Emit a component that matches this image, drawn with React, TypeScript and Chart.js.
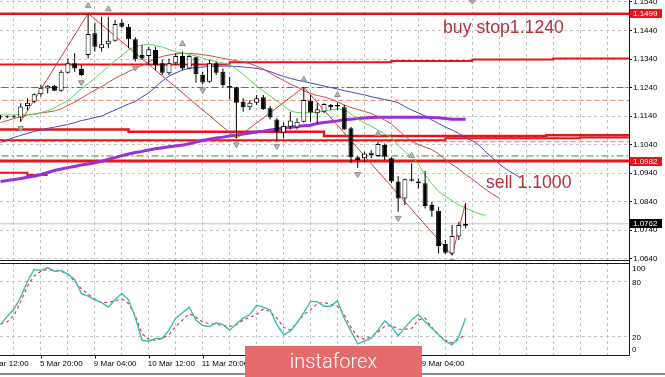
import React, { useEffect, useRef } from 'react';
import { Chart, registerables } from 'chart.js';

Chart.register(...registerables);

// ---------- DATA ----------
const timeLabels = ['4 Mar 12:00', '5 Mar 20:00', '9 Mar 04:00', '10 Mar 12:00', '11 Mar 20:00', '13 Mar 04:00', '16 Mar 12:00', '17 Mar 20:00', '19 Mar 04:00'];
const timeLabelIdx = [-2, 6, 14, 22, 30, 38, 46, 54, 62];

const priceTicks = [1.064, 1.074, 1.084, 1.094, 1.104, 1.114, 1.124, 1.134, 1.144, 1.154];

const opens = [1.1138, 1.1136, 1.1139, 1.1135, 1.1175, 1.1190, 1.1216, 1.1237, 1.1246, 1.1229,
  1.1292, 1.1325, 1.1305, 1.1354, 1.1430, 1.1378, 1.1392, 1.1404, 1.1467, 1.1453,
  1.1409, 1.1354, 1.1351, 1.1372, 1.1325, 1.1290, 1.1325, 1.1351, 1.1307, 1.1346,
  1.1284, 1.1260, 1.1325, 1.1295, 1.1245, 1.1241, 1.1190, 1.1171, 1.1187, 1.1206,
  1.1167, 1.1128, 1.1081, 1.1102, 1.1100, 1.1120, 1.1194, 1.1150, 1.1155, 1.1179,
  1.1179, 1.1171, 1.1097, 1.0995, 1.0992, 1.1003, 1.1000, 1.1038, 1.0992, 1.0910,
  1.0851, 1.0918, 1.0910, 1.0904, 1.0828, 1.0808, 1.0691, 1.0658, 1.0717, 1.0755];
const highs = [1.1144, 1.1142, 1.1143, 1.1185, 1.1202, 1.1220, 1.1249, 1.1249, 1.1249, 1.1301,
  1.1342, 1.1360, 1.1319, 1.1500, 1.1467, 1.1488, 1.1488, 1.1477, 1.1479, 1.1463,
  1.1416, 1.1389, 1.1383, 1.1383, 1.1337, 1.1342, 1.1360, 1.1366, 1.1354, 1.1348,
  1.1295, 1.1337, 1.1331, 1.1307, 1.1278, 1.1243, 1.1202, 1.1196, 1.1214, 1.1214,
  1.1175, 1.1132, 1.1117, 1.1155, 1.1132, 1.1241, 1.1214, 1.1186, 1.1185, 1.1182,
  1.1187, 1.1179, 1.1102, 1.1000, 1.1015, 1.1021, 1.1050, 1.1044, 1.0995, 1.0930,
  1.0921, 1.0974, 1.0921, 1.0948, 1.0839, 1.0822, 1.0705, 1.0758, 1.0769, 1.0834];
const lows = [1.1129, 1.1132, 1.1133, 1.1120, 1.1161, 1.1185, 1.1208, 1.1220, 1.1228, 1.1225,
  1.1290, 1.1295, 1.1280, 1.1342, 1.1366, 1.1366, 1.1378, 1.1401, 1.1448, 1.1378,
  1.1331, 1.1337, 1.1319, 1.1301, 1.1284, 1.1284, 1.1319, 1.1301, 1.1304, 1.1257,
  1.1252, 1.1257, 1.1284, 1.1243, 1.1199, 1.1062, 1.1155, 1.1161, 1.1179, 1.1161,
  1.1128, 1.1056, 1.1062, 1.1093, 1.1093, 1.1117, 1.1120, 1.1115, 1.1150, 1.1161,
  1.1161, 1.1091, 1.0974, 1.0958, 1.0980, 1.0992, 1.0997, 1.0986, 1.0904, 1.0804,
  1.0828, 1.0910, 1.0886, 1.0816, 1.0787, 1.0658, 1.0656, 1.0652, 1.0705, 1.0746];
const closes = [1.1135, 1.1139, 1.1136, 1.1173, 1.1187, 1.1216, 1.1239, 1.1246, 1.1229, 1.1295,
  1.1325, 1.1307, 1.1284, 1.1428, 1.1383, 1.1392, 1.1404, 1.1463, 1.1453, 1.1409,
  1.1339, 1.1342, 1.1374, 1.1319, 1.1292, 1.1325, 1.1351, 1.1307, 1.1351, 1.1287,
  1.1258, 1.1325, 1.1292, 1.1249, 1.1241, 1.1187, 1.1171, 1.1187, 1.1202, 1.1164,
  1.1135, 1.1085, 1.1105, 1.1124, 1.1120, 1.1196, 1.1152, 1.1164, 1.1182, 1.1171,
  1.1173, 1.1093, 1.0995, 1.0986, 1.1009, 1.1011, 1.1042, 1.0997, 1.0910, 1.0851,
  1.0918, 1.0913, 1.0904, 1.0824, 1.0808, 1.0684, 1.0660, 1.0719, 1.0758, 1.0762];

// Alligator-style lines (shifted forward, so longer than the candle series)
const lipsLine = [1.1144, 1.1144, 1.1144, 1.1144, 1.1144, 1.1145, 1.1152, 1.1159, 1.1168, 1.1182,
  1.1194, 1.1215, 1.1236, 1.1254, 1.1273, 1.1293, 1.1314, 1.1333, 1.1352, 1.1372,
  1.1384, 1.1389, 1.1392, 1.1387, 1.1382, 1.1373, 1.1365, 1.1361, 1.1356, 1.1351,
  1.1343, 1.1336, 1.1331, 1.1326, 1.1321, 1.1305, 1.1287, 1.1266, 1.1245, 1.1228,
  1.1210, 1.1193, 1.1175, 1.1159, 1.1152, 1.1151, 1.1152, 1.1154, 1.1158, 1.1161,
  1.1165, 1.1163, 1.1147, 1.1129, 1.1115, 1.1105, 1.1091, 1.1077, 1.1066, 1.1036,
  1.1015, 1.0996, 1.0972, 1.0933, 1.0903, 1.0875, 1.0859, 1.0843, 1.0829, 1.0817,
  1.0807, 1.0798, 1.0791];
const teethLine = [1.1117, 1.1124, 1.1131, 1.1138, 1.1144, 1.1147, 1.1151, 1.1154, 1.1158, 1.1165,
  1.1177, 1.1189, 1.1203, 1.1217, 1.1231, 1.1243, 1.1258, 1.1272, 1.1284, 1.1296,
  1.1307, 1.1317, 1.1329, 1.1342, 1.1349, 1.1354, 1.1358, 1.1360, 1.1360, 1.1358,
  1.1355, 1.1352, 1.1347, 1.1342, 1.1338, 1.1334, 1.1329, 1.1324, 1.1315, 1.1305,
  1.1291, 1.1277, 1.1265, 1.1252, 1.1242, 1.1229, 1.1219, 1.1212, 1.1207, 1.1200,
  1.1189, 1.1179, 1.1170, 1.1163, 1.1156, 1.1149, 1.1138, 1.1126, 1.1112, 1.1091,
  1.1070, 1.1051, 1.1040, 1.1031, 1.1022, 1.1007, 1.0987, 1.0970, 1.0954, 1.0935,
  1.0919, 1.0900, 1.0882, 1.0866, 1.0852];
const jawLine = [1.1047, 1.1056, 1.1065, 1.1072, 1.1079, 1.1086, 1.1091, 1.1097, 1.1101, 1.1106,
  1.1110, 1.1117, 1.1124, 1.1129, 1.1135, 1.1140, 1.1151, 1.1161, 1.1172, 1.1182,
  1.1191, 1.1207, 1.1221, 1.1242, 1.1263, 1.1280, 1.1291, 1.1301, 1.1307, 1.1310,
  1.1312, 1.1314, 1.1314, 1.1315, 1.1315, 1.1314, 1.1312, 1.1310, 1.1307, 1.1303,
  1.1296, 1.1287, 1.1279, 1.1272, 1.1266, 1.1261, 1.1256, 1.1251, 1.1245, 1.1240,
  1.1235, 1.1229, 1.1224, 1.1219, 1.1214, 1.1208, 1.1203, 1.1198, 1.1193, 1.1187,
  1.1173, 1.1161, 1.1151, 1.1140, 1.1126, 1.1114, 1.1101, 1.1091, 1.1079, 1.1063,
  1.1054, 1.1038, 1.1014, 1.0993, 1.0972, 1.0954, 1.0940, 1.0926];
const slowMA = [1.0910, 1.0914, 1.0917, 1.0921, 1.0925, 1.0929, 1.0935, 1.0942, 1.0949, 1.0954,
  1.0959, 1.0963, 1.0968, 1.0972, 1.0976, 1.0981, 1.0989, 1.0994, 1.1001, 1.1007,
  1.1012, 1.1016, 1.1021, 1.1025, 1.1029, 1.1032, 1.1035, 1.1038, 1.1043, 1.1049,
  1.1054, 1.1059, 1.1063, 1.1066, 1.1070, 1.1073, 1.1077, 1.1080, 1.1084, 1.1087,
  1.1091, 1.1094, 1.1098, 1.1100, 1.1103, 1.1106, 1.1108, 1.1114, 1.1117, 1.1120,
  1.1123, 1.1127, 1.1129, 1.1131, 1.1133, 1.1135, 1.1136, 1.1136, 1.1136, 1.1136,
  1.1136, 1.1136, 1.1136, 1.1136, 1.1135, 1.1134, 1.1131, 1.1129, 1.1129, 1.1129];

const zigIdx = [3, 13, 35, 45, 67, 69];
const zigSide = ['L', 'H', 'L', 'H', 'L', 'H'];
const fractalUp = [13, 16, 27, 45, 50, 56, 61];
const fractalDown = [3, 12, 20, 30, 35, 41, 53, 59, 67];

// horizontal levels
const levelTop = 1.1499;
const levelUpperIdx = [-1, 34, 58, 70, 82, 95];
const levelUpperVal = [1.1321, 1.1329, 1.1333, 1.1338, 1.1342, 1.1342];
const levelBuy = 1.1240;
const levelStopHigh = 1.1195;
const levelMidAIdx = [-1, 19, 48, 81, 95];
const levelMidAVal = [1.1093, 1.1085, 1.1070, 1.1073, 1.1073];
const levelMidBIdx = [-1, 66, 86, 95];
const levelMidBVal = [1.1055, 1.1062, 1.1065, 1.1065];
const levelStopLow = 1.1050;
const levelSell = 1.1000;
const levelBottom = 1.0982;
const levelLowIdx = [-1, 4, 7];
const levelLowVal = [1.0941, 1.0933, 1.0933];
const currentPrice = 1.0762;

const stochK = [33, 42, 50, 63, 80, 93, 92, 95, 91, 92,
  88, 82, 67, 64, 60, 57, 52, 60, 67, 60,
  41, 16, 15, 18, 18, 27, 40, 46, 52, 38,
  32, 31, 35, 33, 27, 34, 40, 44, 54, 52,
  49, 33, 22, 26, 35, 46, 58, 58, 53, 53,
  59, 40, 26, 12, 15, 18, 27, 37, 31, 21,
  30, 38, 44, 36, 29, 22, 15, 11, 20, 40];
const stochD = [34, 36, 43, 58, 75, 86, 91, 93, 92, 91,
  88, 80, 72, 66, 61, 57, 57, 59, 61, 56,
  43, 23, 17, 16, 18, 22, 31, 38, 45, 41,
  36, 34, 33, 32, 31, 33, 38, 41, 44, 50,
  47, 40, 30, 27, 35, 44, 49, 56, 57, 55,
  53, 44, 30, 20, 17, 20, 25, 31, 32, 28,
  28, 29, 38, 40, 30, 22, 16, 13, 17, 23];
const stochLabels = [100, 80, 20, 0];
const stochLevels = [20, 80];

// ---------- STYLE ----------
const FONT = '"Liberation Sans", Arial, sans-serif';
const X_MIN = -0.074;
const X_MAX = 93.25;
const Y_MIN = 1.0635;
const Y_MAX = 1.1547;
const GRID = '#c4c4c4';
const RED = '#e8141b';

const pts = (arr: number[], start = 0) => arr.map((v, i) => ({ x: i + start, y: v }));
const flat = (v: number) => [{ x: X_MIN - 2, y: v }, { x: X_MAX + 2, y: v }];
const steps = (idx: number[], val: number[]) => idx.map((x, i) => ({ x, y: val[i] }));

const line = (data: any[], color: string, width: number, order: number, extra: any = {}) => ({
  type: 'line', data, borderColor: color, borderWidth: width, pointRadius: 0, pointHoverRadius: 0,
  tension: 0, fill: false, order, ...extra,
});

const gridTicks = (s: any) => {
  const t: any[] = [];
  for (let k = 2; k <= X_MAX; k += 4) t.push({ value: k });
  s.ticks = t;
};

const noPad = (s: any) => {
  s.paddingTop = 0; s.paddingBottom = 0; s.paddingLeft = 0; s.paddingRight = 0;
};

const mainDecor = {
  id: 'mainDecor',
  afterDraw(chart: any) {
    const { ctx, chartArea: a, scales } = chart;
    const xs = scales.x, ys = scales.y;
    ctx.save();
    const r = Math.round(a.right) + 0.5;
    const b = Math.round(a.bottom) + 0.5;
    ctx.strokeStyle = '#1a1a1a';
    ctx.lineWidth = 1;
    ctx.setLineDash([]);
    ctx.beginPath();
    ctx.moveTo(r, 0); ctx.lineTo(r, chart.height);
    ctx.moveTo(0, b); ctx.lineTo(r, b);
    ctx.stroke();

    // chart-shift marker
    const sx = xs.getPixelForValue(70);
    ctx.fillStyle = '#a8a8a8';
    ctx.beginPath();
    ctx.moveTo(sx - 4, 0); ctx.lineTo(sx + 4, 0); ctx.lineTo(sx, 5); ctx.closePath();
    ctx.fill();

    // price boxes on axis
    const boxes = [
      { v: levelTop, bg: RED },
      { v: levelBottom, bg: RED },
      { v: currentPrice, bg: '#000' },
    ];
    ctx.font = '8px ' + FONT;
    ctx.textBaseline = 'middle';
    ctx.textAlign = 'left';
    boxes.forEach((bx) => {
      const y = ys.getPixelForValue(bx.v);
      ctx.fillStyle = bx.bg;
      ctx.fillRect(a.right + 1, Math.round(y - 4.5), 32, 9);
      ctx.fillStyle = '#fff';
      ctx.fillText(bx.v.toFixed(4), a.right + 4, y + 0.5);
    });

    // text notes
    ctx.font = '17.7px ' + FONT;
    ctx.fillStyle = '#b0333b';
    ctx.textBaseline = 'alphabetic';
    ctx.fillText('buy stop1.1240', xs.getPixelForValue(65.65), ys.getPixelForValue(1.1433));
    ctx.fillText('sell 1.1000', xs.getPixelForValue(72.03), ys.getPixelForValue(1.0889));
    ctx.restore();
  },
};

const stochDecor = {
  id: 'stochDecor',
  afterDraw(chart: any) {
    const { ctx, chartArea: a, scales } = chart;
    const xs = scales.x, ys = scales.y;
    ctx.save();
    ctx.setLineDash([]);
    const r = Math.round(a.right) + 0.5;
    const t = Math.round(a.top) + 0.5;
    const b = Math.round(a.bottom) + 0.5;
    ctx.strokeStyle = '#1a1a1a';
    ctx.lineWidth = 1;
    ctx.beginPath();
    ctx.moveTo(0, t); ctx.lineTo(r, t);
    ctx.moveTo(r, 0); ctx.lineTo(r, b);
    ctx.moveTo(0, b); ctx.lineTo(r, b);
    ctx.stroke();

    // y labels
    ctx.fillStyle = '#000';
    ctx.font = '8px ' + FONT;
    ctx.textAlign = 'left';
    ctx.textBaseline = 'middle';
    stochLabels.forEach((v) => {
      let y = ys.getPixelForValue(v) + 1.5;
      y = Math.max(a.top + 6, Math.min(a.bottom - 5, y));
      ctx.fillText(String(v), a.right + 3, y);
    });

    // x labels
    timeLabels.forEach((lab, i) => {
      const x = xs.getPixelForValue(timeLabelIdx[i]);
      ctx.beginPath();
      ctx.moveTo(Math.round(x) + 0.5, b);
      ctx.lineTo(Math.round(x) + 0.5, b + 3);
      ctx.stroke();
      ctx.fillText(lab, x - 1, a.bottom + 9);
    });

    // window bottom line
    ctx.fillStyle = '#8c8c8c';
    ctx.fillRect(0, 111, chart.width, 2);

    // watermark
    ctx.fillStyle = '#e36b6b';
    ctx.fillRect(245, 84, 177, chart.height - 84);
    ctx.fillStyle = '#fff';
    ctx.font = '300 20px Roboto, "Open Sans", sans-serif';
    ctx.textAlign = 'center';
    ctx.textBaseline = 'alphabetic';
    ctx.fillText('instaforex', 333.5, 106);
    ctx.restore();
  },
};

export default function App() {
  const mainRef = useRef<HTMLCanvasElement>(null);
  const stochRef = useRef<HTMLCanvasElement>(null);

  useEffect(() => {
    document.body.style.margin = '0';
    document.body.style.background = '#fff';
    Chart.defaults.font.family = FONT;

    const bull = opens.map((o, i) => closes[i] >= o);
    const zigData = zigIdx.map((i, k) => ({ x: i, y: zigSide[k] === 'H' ? highs[i] : lows[i] }));

    const main = new Chart(mainRef.current as HTMLCanvasElement, {
      type: 'line',
      data: {
        datasets: [
          {
            type: 'line', data: fractalUp.map((i) => ({ x: i, y: highs[i] + 0.0027 })), showLine: false,
            pointStyle: 'triangle', pointRadius: 3.3, pointRotation: 0, pointBackgroundColor: '#b8b8b8',
            pointBorderColor: '#8e8e8e', pointBorderWidth: 1, order: 0,
          },
          {
            type: 'line', data: fractalDown.map((i) => ({ x: i, y: lows[i] - 0.0022 })), showLine: false,
            pointStyle: 'triangle', pointRadius: 3.3, pointRotation: 180, pointBackgroundColor: '#b8b8b8',
            pointBorderColor: '#8e8e8e', pointBorderWidth: 1, order: 0,
          },
          {
            type: 'bar', data: opens.map((o, i) => ({ x: i, y: [o, closes[i]] })),
            backgroundColor: bull.map((bb) => (bb ? '#ffffff' : '#000000')), borderColor: '#000',
            borderWidth: 1, borderSkipped: false, grouped: false, maxBarThickness: 5,
            categoryPercentage: 1, barPercentage: 1, inflateAmount: 0, order: 1,
          },
          {
            type: 'bar', data: lows.map((l, i) => ({ x: i, y: [l, highs[i]] })),
            backgroundColor: '#000', borderWidth: 0, grouped: false, maxBarThickness: 1,
            categoryPercentage: 1, barPercentage: 1, inflateAmount: 0, order: 2,
          },
          line(zigData, '#cc3b3b', 1, 3),
          line(pts(lipsLine), '#55d655', 1, 4),
          line(pts(teethLine), '#c84b4b', 1, 5),
          line(pts(jawLine), '#4747c2', 1, 6),
          line(pts(slowMA), '#9b30d9', 3, 7),
          line(flat(levelTop), RED, 2.5, 10),
          line(steps(levelUpperIdx, levelUpperVal), RED, 2, 11, { stepped: true }),
          line(flat(levelBuy), '#2f8f2f', 1, 12, { borderDash: [7, 3, 2, 3] }),
          line(flat(levelStopHigh), '#ef7f56', 1, 13, { borderDash: [5, 3] }),
          line(steps(levelMidAIdx, levelMidAVal), RED, 2.5, 14, { stepped: true }),
          line(steps(levelMidBIdx, levelMidBVal), RED, 2, 15, { stepped: true }),
          line(flat(levelStopLow), '#ef7f56', 1, 16, { borderDash: [5, 3] }),
          line(flat(levelSell), '#2f8f2f', 1, 17, { borderDash: [7, 3, 2, 3] }),
          line(flat(levelBottom), RED, 3, 18),
          line(steps(levelLowIdx, levelLowVal), RED, 2, 19, { stepped: true }),
          line(flat(currentPrice), '#c4c4c4', 1, 20),
        ] as any,
      },
      options: {
        responsive: false,
        animation: false,
        devicePixelRatio: 1,
        events: [],
        layout: { autoPadding: false, padding: { left: 0, right: 0, top: 0, bottom: 2 } },
        plugins: { legend: { display: false }, tooltip: { enabled: false } },
        scales: {
          x: {
            type: 'linear', min: X_MIN, max: X_MAX, offset: false,
            ticks: { display: false },
            grid: { color: GRID, drawTicks: false, offset: false },
            border: { display: false, dash: [3, 3] },
            afterBuildTicks: gridTicks,
            afterFit: (s: any) => { s.height = 0; noPad(s); },
          },
          y: {
            type: 'linear', position: 'right', min: Y_MIN, max: Y_MAX,
            ticks: {
              color: '#000', font: { size: 8, family: FONT }, padding: 1, autoSkip: false,
              callback: (v: any) => Number(v).toFixed(4),
            },
            grid: { color: GRID, tickColor: '#000', tickLength: 3, drawTicks: true },
            border: { display: false, dash: [3, 3] },
            afterBuildTicks: (s: any) => { s.ticks = priceTicks.map((v) => ({ value: v })); },
            afterFit: (s: any) => { s.width = 36; noPad(s); },
          },
        },
      } as any,
      plugins: [mainDecor],
    });

    const stoch = new Chart(stochRef.current as HTMLCanvasElement, {
      type: 'line',
      data: {
        datasets: [
          line(pts(stochK), '#3dbcae', 1.4, 0) as any,
          line(pts(stochD), '#d42c34', 1.1, 1, { borderDash: [3, 3] }) as any,
        ],
      },
      options: {
        responsive: false,
        animation: false,
        devicePixelRatio: 1,
        events: [],
        layout: { autoPadding: false, padding: { left: 0, right: 0, top: 1, bottom: 0 } },
        plugins: { legend: { display: false }, tooltip: { enabled: false } },
        scales: {
          x: {
            type: 'linear', min: X_MIN, max: X_MAX, offset: false,
            ticks: { display: false },
            grid: { color: GRID, drawTicks: false, offset: false },
            border: { display: false, dash: [3, 3] },
            afterBuildTicks: gridTicks,
            afterFit: (s: any) => { s.height = 22; noPad(s); },
          },
          y: {
            type: 'linear', position: 'right', min: 0, max: 100,
            ticks: { display: false },
            grid: { color: GRID, drawTicks: false },
            border: { display: false, dash: [3, 3] },
            afterBuildTicks: (s: any) => { s.ticks = stochLevels.map((v) => ({ value: v })); },
            afterFit: (s: any) => { s.width = 36; noPad(s); },
          },
        },
      } as any,
      plugins: [stochDecor],
    });

    return () => { main.destroy(); stoch.destroy(); };
  }, []);

  return (
    <div style={{ width: 665, height: 377, background: '#fff', overflow: 'hidden' }}>
      <canvas ref={mainRef} width={665} height={262} style={{ display: 'block', width: 665, height: 262 }} />
      <canvas ref={stochRef} width={665} height={115} style={{ display: 'block', width: 665, height: 115 }} />
    </div>
  );
}
